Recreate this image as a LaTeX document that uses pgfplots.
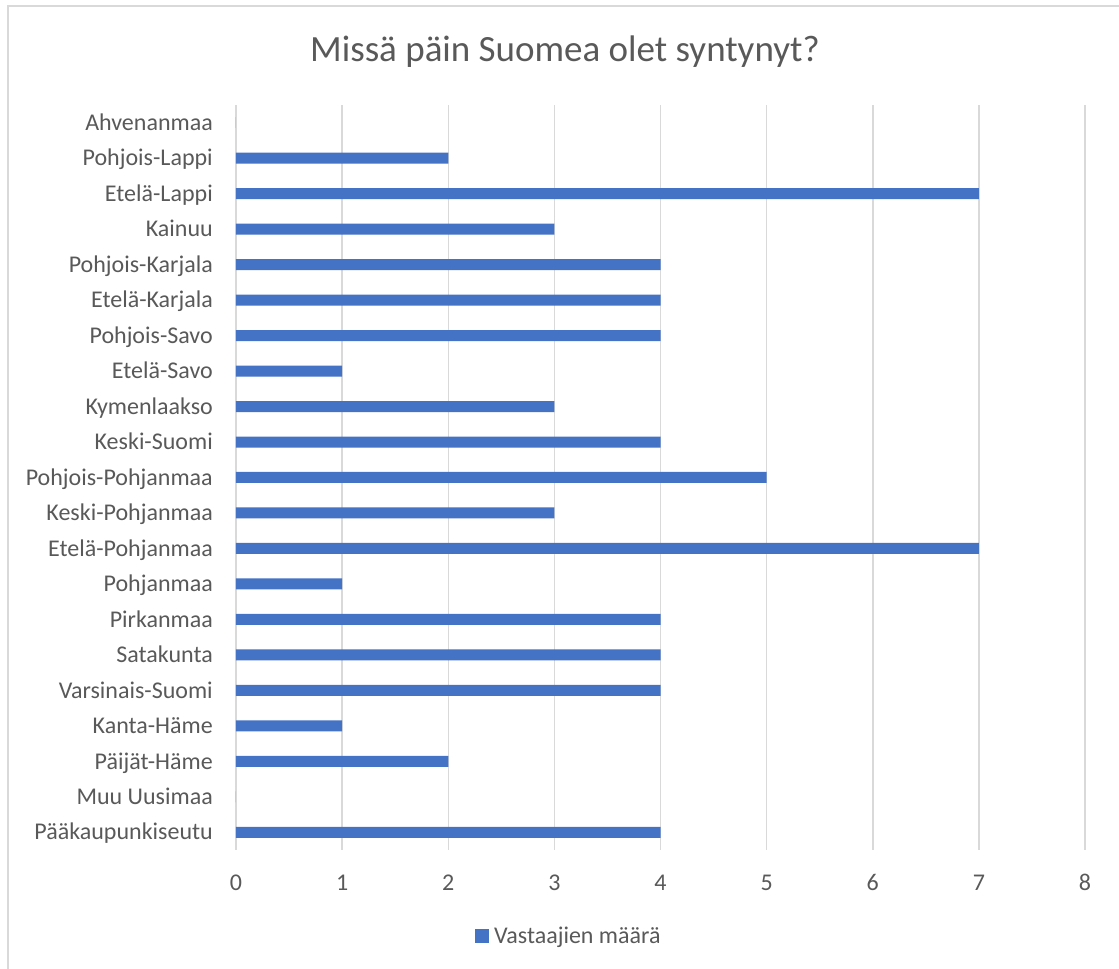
\documentclass[border=0pt]{standalone}
\usepackage{pgfplots}
\pgfplotsset{compat=1.18}
\usepackage{fontspec}
\setmainfont{Carlito}
\definecolor{barblue}{HTML}{4472C4}
\definecolor{txt}{HTML}{595959}
\definecolor{gridc}{HTML}{D9D9D9}
\begin{document}
\begin{tikzpicture}[x=1pt,y=1pt]
\useasboundingbox (0,0) rectangle (1119,969);
\draw[gridc, line width=1.5pt] (8,0) -- (8,963) -- (1119,963);
\node[anchor=base, font=\fontsize{37}{44}\selectfont, text=txt, inner sep=0pt] at (565,907) {Missä päin Suomea olet syntynyt?};
\begin{axis}[
  at={(236pt,119pt)}, anchor=south west,
  scale only axis, width=849pt, height=745pt,
  xmin=0, xmax=8, ymin=-0.5, ymax=20.5,
  xbar, bar width=11pt,
  axis line style={draw=none},
  xmajorgrids, grid style={gridc, line width=1.5pt},
  major tick length=0pt,
  xtick={0,...,8}, ytick={0,...,20},
  yticklabels={Pääkaupunkiseutu, Muu Uusimaa, Päijät-Häme, Kanta-Häme, Varsinais-Suomi, Satakunta, Pirkanmaa, Pohjanmaa, Etelä-Pohjanmaa, Keski-Pohjanmaa, Pohjois-Pohjanmaa, Keski-Suomi, Kymenlaakso, Etelä-Savo, Pohjois-Savo, Etelä-Karjala, Pohjois-Karjala, Kainuu, Etelä-Lappi, Pohjois-Lappi, Ahvenanmaa},
  /pgf/number format/assume math mode=true,
  ticklabel style={font=\fontsize{24}{29}\selectfont, text=txt, inner sep=0pt},
  yticklabel style={anchor=base east, xshift=-23pt, yshift=-7.7pt},
  xticklabel style={anchor=base, yshift=-41pt},
  legend style={draw=none, fill=none, at={(0.2815,-0.1154)}, anchor=west, inner sep=0pt,
    font=\fontsize{24}{29}\selectfont, text=txt, column sep=5pt, nodes={inner sep=0pt}},
]
\addplot[fill=barblue, draw=none,
  legend image code/.code={\fill[barblue] (0pt,-7pt) rectangle (14pt,7pt);}]
  coordinates {(4,0) (0,1) (2,2) (1,3) (4,4) (4,5) (4,6) (1,7) (7,8) (3,9) (5,10) (4,11) (3,12) (1,13) (4,14) (4,15) (4,16) (3,17) (7,18) (2,19) (0,20)};
\addlegendentry{Vastaajien määrä}
\end{axis}
\end{tikzpicture}
\end{document}
